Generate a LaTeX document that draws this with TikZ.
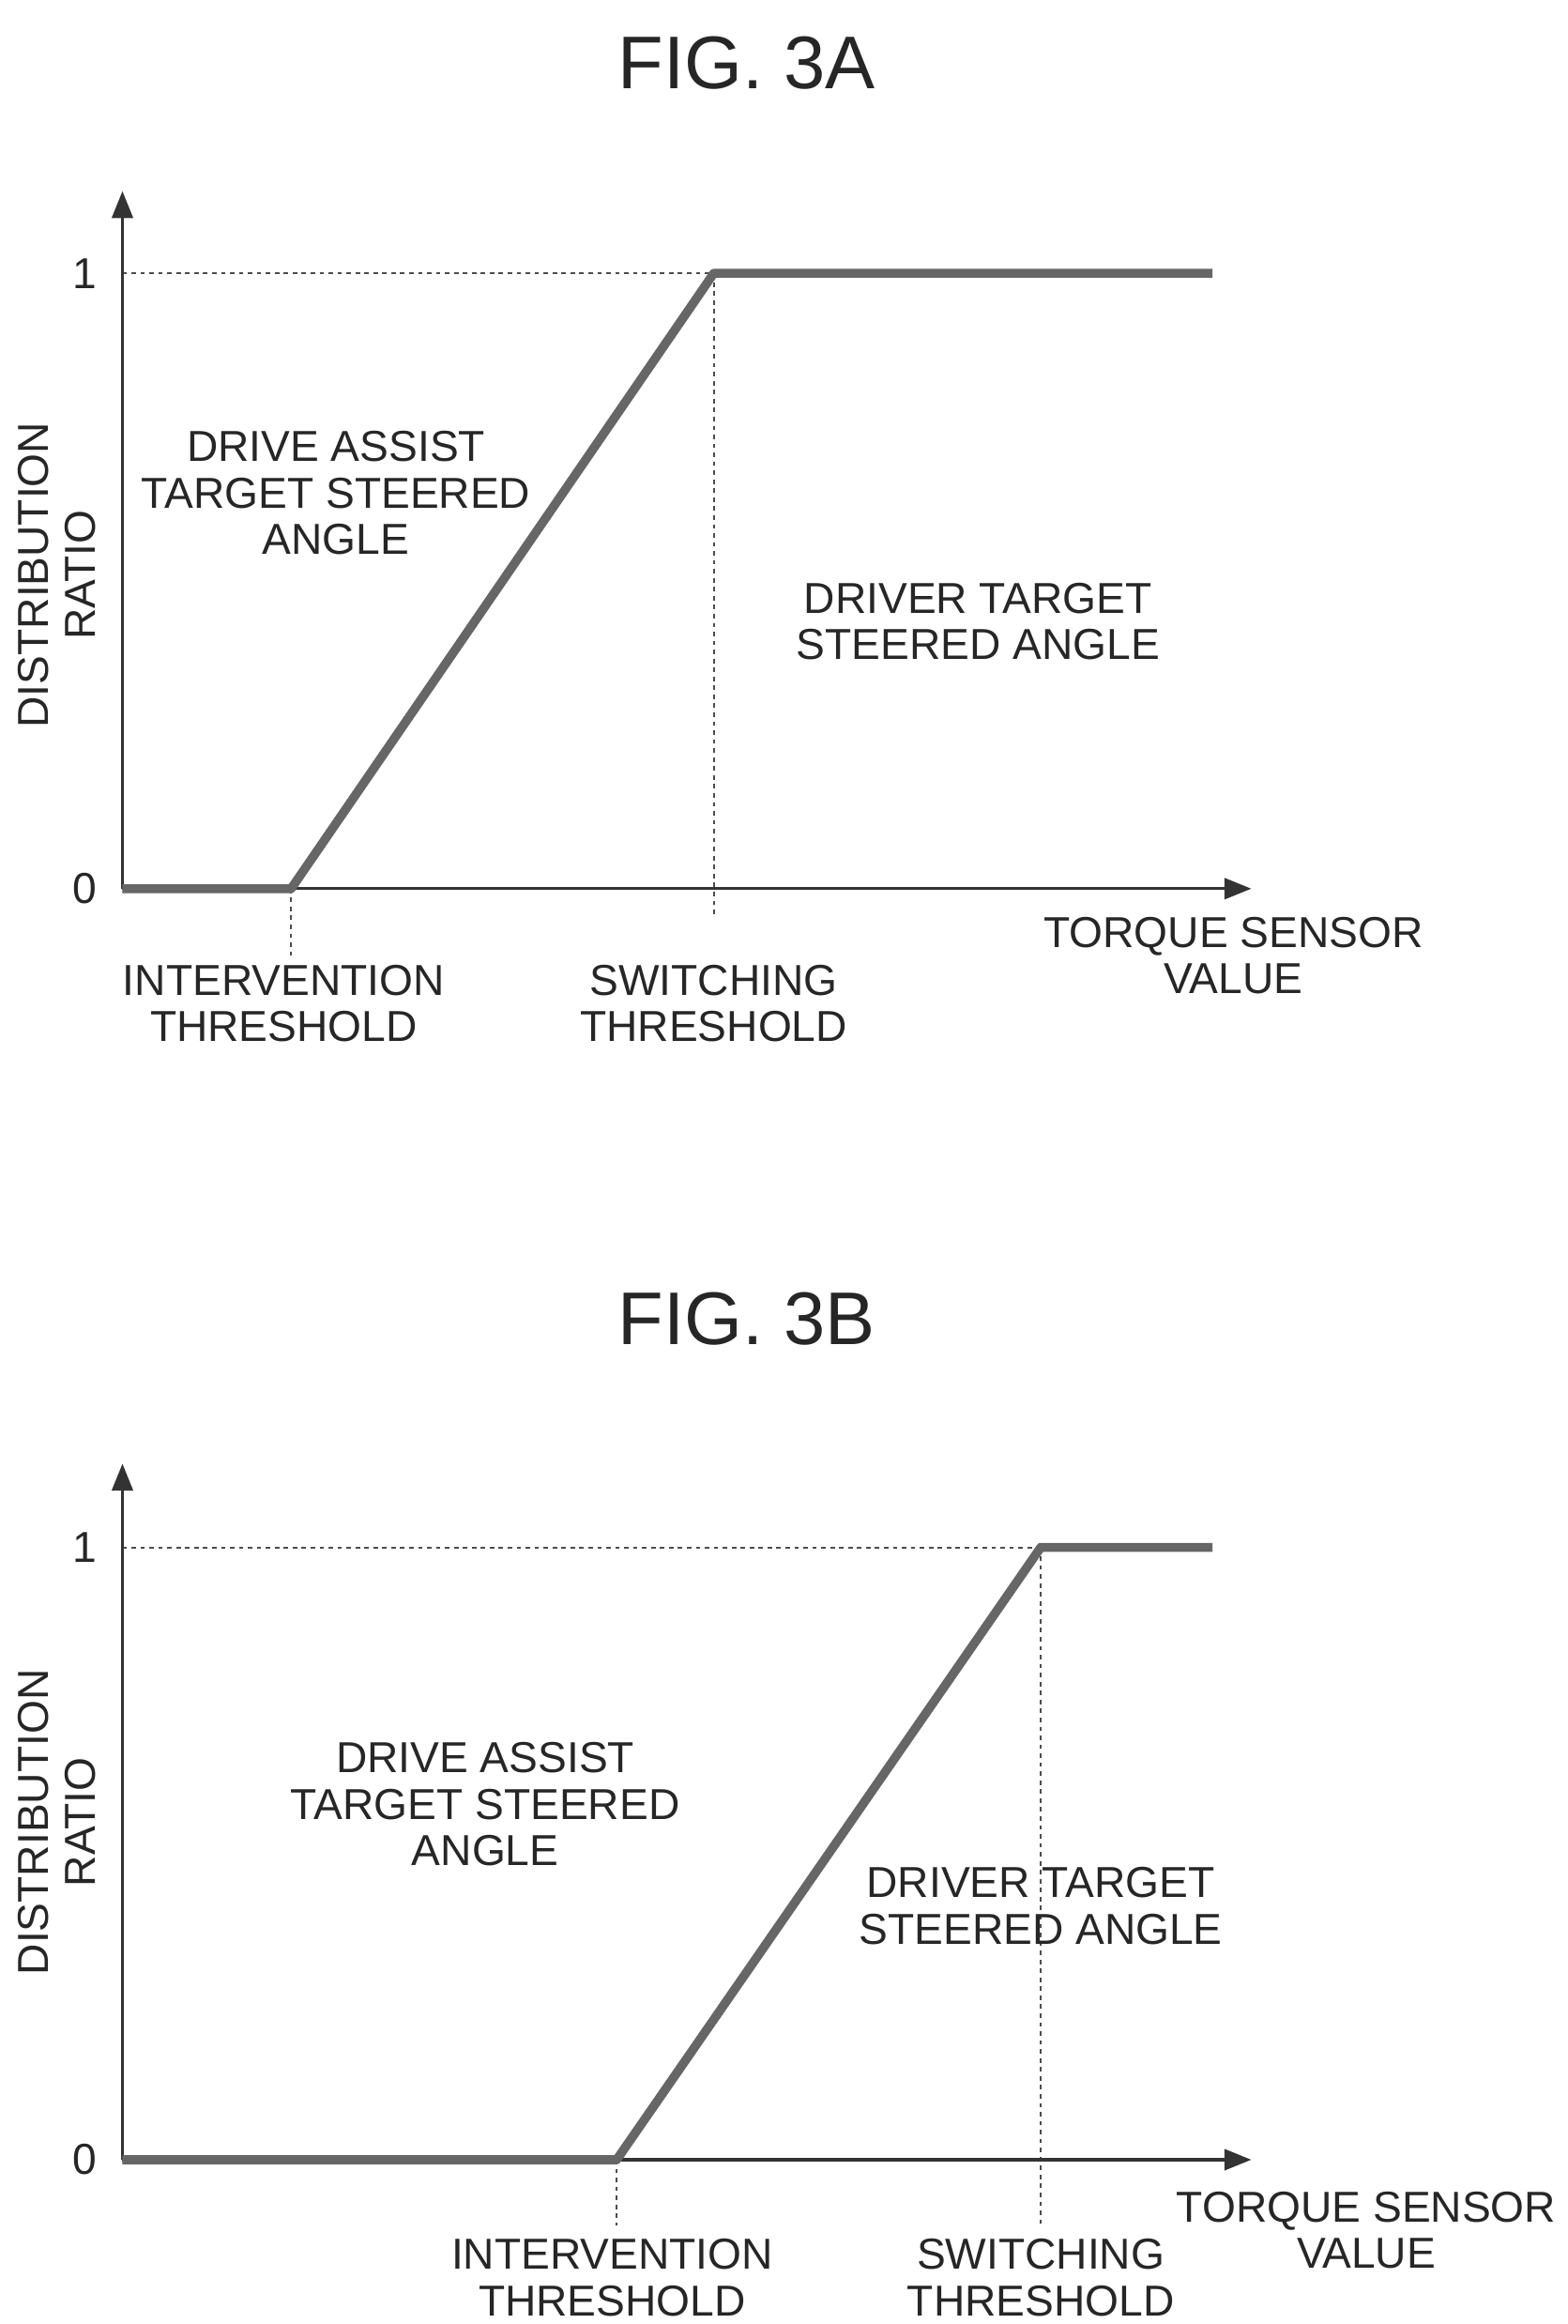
\documentclass[tikz,border=0pt]{standalone}
\usepackage{fontspec}
\setmainfont{Liberation Sans}
\usetikzlibrary{arrows.meta}
\begin{document}
\begin{tikzpicture}[x=0.5pt,y=-0.5pt,
  lbl/.style={font=\fontsize{14.5}{15.5}\selectfont,align=center,inner sep=0pt,text=black!85},
  ttl/.style={font=\fontsize{25}{28}\selectfont,inner sep=0pt,text=black!85},
  axis/.style={line width=1pt,black!80,-{Triangle[length=9pt,width=7pt]}},
  curve/.style={line width=3pt,black!60,line join=round},
  dot/.style={line width=0.6pt,black!70,dash pattern=on 1.5pt off 1.5pt}]
\useasboundingbox (0,0) rectangle (1050,1556);
% ---------- FIG 3A
\node[ttl] (ta) at (500,42) {FIG. 3A};
\coordinate (oa) at (82,595);
\coordinate (ya) at (82,128);
\coordinate (xa) at (838,595);
\coordinate (ia) at (195,595);
\coordinate (sa) at (478,183);
\coordinate (ea) at (812,183);
\coordinate (y1a) at (82,183);
\coordinate (sda) at (478,615);
\coordinate (ida) at (195,640);
\draw[dot] (y1a) -- (sa);
\draw[dot] (sa) -- (sda);
\draw[dot] (ia) -- (ida);
\draw[axis] (oa) -- (ya);
\draw[axis] (oa) -- (xa);
\draw[curve] (oa) -- (ia) -- (sa) -- (ea);
\node[lbl] (one) at (57,183) {1};
\node[lbl] (zero) at (57,595) {0};
\node[lbl,rotate=90] (dra) at (38,385) {DISTRIBUTION\\RATIO};
\node[lbl] (daa) at (225,330) {DRIVE ASSIST\\TARGET STEERED\\ANGLE};
\node[lbl] (dta) at (655,416) {DRIVER TARGET\\STEERED ANGLE};
\node[lbl] (ita) at (190,672) {INTERVENTION\\THRESHOLD};
\node[lbl] (sta) at (478,672) {SWITCHING\\THRESHOLD};
\node[lbl] (tqa) at (826,640) {TORQUE SENSOR\\VALUE};
% ---------- FIG 3B
\node[ttl] (tb) at (500,883) {FIG. 3B};
\coordinate (ob) at (82,1446);
\coordinate (yb) at (82,980);
\coordinate (xb) at (838,1446);
\coordinate (ib) at (413,1446);
\coordinate (sb) at (697,1036);
\coordinate (eb) at (812,1036);
\coordinate (y1b) at (82,1036);
\coordinate (sdb) at (697,1490);
\coordinate (idb) at (413,1490);
\draw[dot] (y1b) -- (sb);
\draw[dot] (sb) -- (sdb);
\draw[dot] (ib) -- (idb);
\draw[axis] (ob) -- (yb);
\draw[axis] (ob) -- (xb);
\draw[curve] (ob) -- (ib) -- (sb) -- (eb);
\node[lbl] (oneb) at (57,1036) {1};
\node[lbl] (zerob) at (57,1446) {0};
\node[lbl,rotate=90] (drb) at (38,1220) {DISTRIBUTION\\RATIO};
\node[lbl] (dab) at (325,1208) {DRIVE ASSIST\\TARGET STEERED\\ANGLE};
\node[lbl] (dtb) at (697,1276) {DRIVER TARGET\\STEERED ANGLE};
\node[lbl] (itb) at (410,1525) {INTERVENTION\\THRESHOLD};
\node[lbl] (stb) at (697,1525) {SWITCHING\\THRESHOLD};
\node[lbl] (tqb) at (915,1493) {TORQUE SENSOR\\VALUE};
\end{tikzpicture}
\end{document}
